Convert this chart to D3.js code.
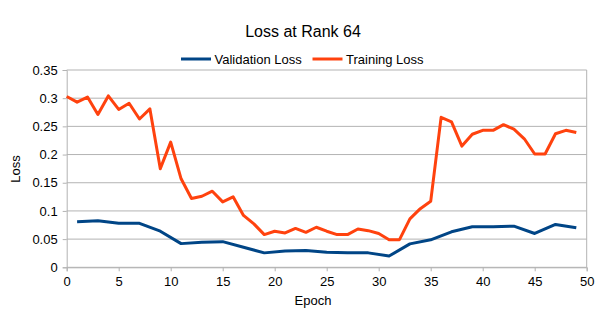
<!DOCTYPE html>
<html>
<head>
<meta charset="utf-8">
<script src="https://cdn.jsdelivr.net/npm/d3@7"></script>
<style>
  body { margin: 0; background: #fff; }
  text { font-family: "Liberation Sans", Arial, sans-serif; fill: #000; }
</style>
</head>
<body>
<div id="chart"></div>
<script>
// training loss, one value per epoch 0..49
const trainEpochs = d3.range(0, 50);
const trainLoss = [0.303, 0.293, 0.302, 0.271, 0.304, 0.280, 0.291, 0.263, 0.281, 0.175,
                   0.222, 0.157, 0.122, 0.126, 0.135, 0.116, 0.125, 0.092, 0.077, 0.058,
                   0.064, 0.061, 0.069, 0.062, 0.071, 0.064, 0.058, 0.058, 0.068, 0.065,
                   0.060, 0.049, 0.049, 0.086, 0.104, 0.117, 0.266, 0.258, 0.215, 0.236,
                   0.243, 0.243, 0.253, 0.245, 0.228, 0.201, 0.201, 0.237, 0.243, 0.239];

// validation loss, measured every other epoch
const valEpochs = [1, 3, 5, 7, 9, 11, 13, 15, 17, 19, 21, 23, 25, 27, 29, 31, 33, 35, 37, 39, 41, 43, 45, 47, 49];
const valLoss = [0.081, 0.0825, 0.078, 0.078, 0.064, 0.042, 0.0445, 0.0455, 0.0356, 0.0256,
                 0.029, 0.0297, 0.0267, 0.0256, 0.0256, 0.020, 0.0416, 0.0487, 0.063, 0.0718,
                 0.0718, 0.073, 0.060, 0.076, 0.070];

const xTicks = [0, 5, 10, 15, 20, 25, 30, 35, 40, 45, 50];
const yTicks = [0, 0.05, 0.1, 0.15, 0.2, 0.25, 0.3, 0.35];

const width = 606, height = 335;
const margin = {left: 66.7, right: 606 - 586.7, top: 70, bottom: 335 - 267.3};

const svg = d3.select("#chart").append("svg")
  .attr("width", width)
  .attr("height", height);

const x = d3.scaleLinear().domain([0, 50]).range([margin.left, width - margin.right]);
const y = d3.scaleLinear().domain([0, 0.35]).range([height - margin.bottom, margin.top]);

const grid = "#b3b3b3";

// horizontal gridlines
svg.append("g")
  .selectAll("line")
  .data(yTicks)
  .join("line")
  .attr("x1", x(0)).attr("x2", x(50))
  .attr("y1", d => y(d)).attr("y2", d => y(d))
  .attr("stroke", grid).attr("stroke-width", 1);

// right border
svg.append("line")
  .attr("x1", x(50)).attr("x2", x(50))
  .attr("y1", y(0.35)).attr("y2", y(0))
  .attr("stroke", grid);

// x axis
const xAxis = svg.append("g")
  .attr("transform", `translate(0,${y(0)})`)
  .call(d3.axisBottom(x).tickValues(xTicks).tickFormat(d3.format("d")).tickSize(4).tickPadding(5));
xAxis.select(".domain").attr("stroke", grid);
xAxis.selectAll(".tick line").attr("stroke", grid);
xAxis.selectAll("text").style("font-size", "13px").attr("fill", "#000")
  .style("font-family", "Liberation Sans, Arial, sans-serif");

// y axis
const yAxis = svg.append("g")
  .attr("transform", `translate(${x(0)},0)`)
  .call(d3.axisLeft(y).tickValues(yTicks).tickFormat(d => d3.format("")(+d.toFixed(2))).tickSize(4).tickPadding(5));
yAxis.select(".domain").attr("stroke", grid);
yAxis.selectAll(".tick line").attr("stroke", grid);
yAxis.selectAll("text").style("font-size", "13px").attr("fill", "#000")
  .style("font-family", "Liberation Sans, Arial, sans-serif");

const line = d3.line()
  .x(d => x(d[0]))
  .y(d => y(d[1]));

svg.append("path")
  .datum(valEpochs.map((e, i) => [e, valLoss[i]]))
  .attr("fill", "none")
  .attr("stroke", "#004586")
  .attr("stroke-width", 3)
  .attr("stroke-linejoin", "round")
  .attr("d", line);

svg.append("path")
  .datum(trainEpochs.map((e, i) => [e, trainLoss[i]]))
  .attr("fill", "none")
  .attr("stroke", "#ff420e")
  .attr("stroke-width", 3)
  .attr("stroke-linejoin", "round")
  .attr("d", line);

// title
svg.append("text")
  .attr("x", 303).attr("y", 37)
  .attr("text-anchor", "middle")
  .style("font-size", "16px")
  .text("Loss at Rank 64");

// legend
const legend = [
  {name: "Validation Loss", color: "#004586", x: 181},
  {name: "Training Loss", color: "#ff420e", x: 312.5}
];
const lg = svg.append("g").selectAll("g").data(legend).join("g")
  .attr("transform", d => `translate(${d.x},59)`);
lg.append("line")
  .attr("x1", 0).attr("x2", 30)
  .attr("stroke", d => d.color).attr("stroke-width", 3);
lg.append("text")
  .attr("x", 33.5).attr("y", 4.7)
  .style("font-size", "13px")
  .text(d => d.name);

// axis titles
svg.append("text")
  .attr("x", 313).attr("y", 305)
  .attr("text-anchor", "middle")
  .style("font-size", "13px")
  .text("Epoch");

svg.append("text")
  .attr("transform", `translate(19.5,169) rotate(-90)`)
  .attr("text-anchor", "middle")
  .style("font-size", "13px")
  .text("Loss");
</script>
</body>
</html>
